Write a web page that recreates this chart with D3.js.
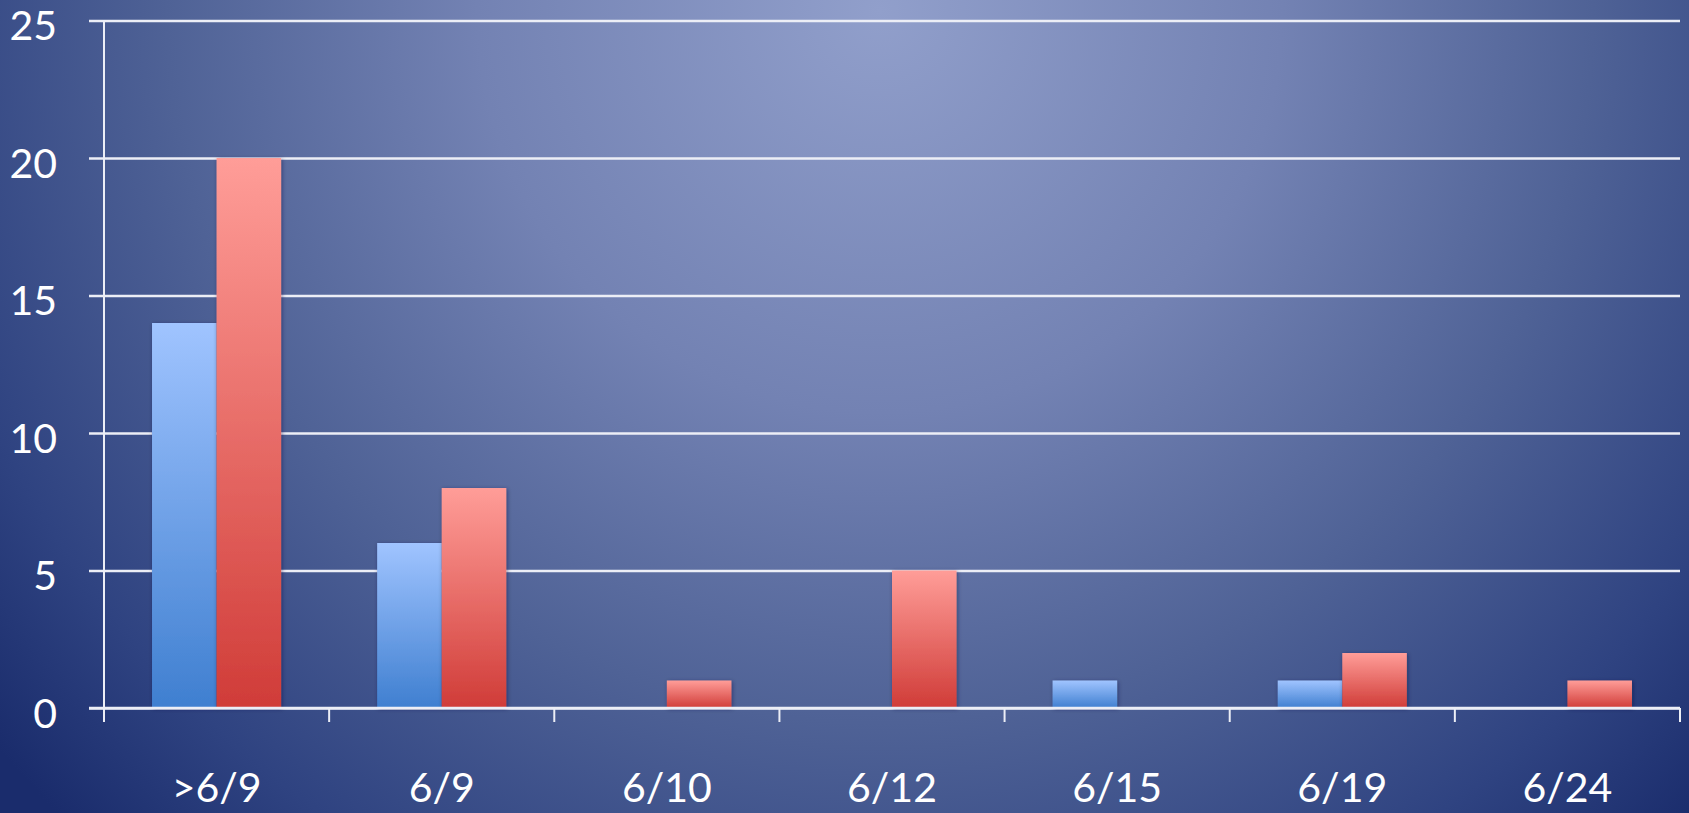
<!DOCTYPE html>
<html>
<head>
<meta charset="utf-8">
<script src="https://cdn.jsdelivr.net/npm/d3@7"></script>
<style>
  html, body { margin: 0; padding: 0; overflow: hidden; background: #2a3c78; }
  svg { display: block; }
  text { font-family: Lato, "Open Sans", sans-serif; fill: #ffffff; }
</style>
</head>
<body>
<script>
// Counts per date, two series
const categories = [">6/9", "6/9", "6/10", "6/12", "6/15", "6/19", "6/24"];
const blueValues = [14, 6, 0, 0, 1, 1, 0];
const redValues  = [20, 8, 1, 5, 0, 2, 1];
const yTicks = [0, 5, 10, 15, 20, 25];

const W = 1689, H = 813;
const plotLeft = 104, plotRight = 1680, plotTop = 20.5, plotBottom = 708;
const fontSize = 41;
const lineColor = "#eceef6", lineWidth = 2.5;

const svg = d3.select("body").append("svg").attr("width", W).attr("height", H);
const defs = svg.append("defs");

// backdrop: bright glow near top-centre fading to deep navy at the corners
const bg = defs.append("radialGradient").attr("id", "bg")
  .attr("gradientUnits", "userSpaceOnUse")
  .attr("cx", 880).attr("cy", 10).attr("r", 1150);
bg.append("stop").attr("offset", "0%").attr("stop-color", "#919fcb");
bg.append("stop").attr("offset", "35%").attr("stop-color", "#7382b3");
bg.append("stop").attr("offset", "62%").attr("stop-color", "#4f6296");
bg.append("stop").attr("offset", "85%").attr("stop-color", "#2f4381");
bg.append("stop").attr("offset", "100%").attr("stop-color", "#1a2c6c");
svg.append("rect").attr("width", W).attr("height", H).attr("fill", "url(#bg)");

const gBlue = defs.append("linearGradient").attr("id", "gBlue").attr("x1", 0).attr("y1", 0).attr("x2", 0).attr("y2", 1);
gBlue.append("stop").attr("offset", "0%").attr("stop-color", "#a0c4ff");
gBlue.append("stop").attr("offset", "100%").attr("stop-color", "#3f7fd0");
const gRed = defs.append("linearGradient").attr("id", "gRed").attr("x1", 0).attr("y1", 0).attr("x2", 0).attr("y2", 1);
gRed.append("stop").attr("offset", "0%").attr("stop-color", "#ff9d98");
gRed.append("stop").attr("offset", "100%").attr("stop-color", "#d03c38");

const shadow = defs.append("filter").attr("id", "shadow").attr("x", "-20%").attr("y", "-20%").attr("width", "140%").attr("height", "140%");
shadow.append("feDropShadow").attr("dx", 1).attr("dy", 1).attr("stdDeviation", 2)
  .attr("flood-color", "#101c40").attr("flood-opacity", 0.45);

const x = d3.scaleBand().domain(categories).range([plotLeft, plotRight]).paddingInner(0).paddingOuter(0);
const y = d3.scaleLinear().domain([0, 25]).range([plotBottom, plotTop]);
// each bar takes ~29% of a date's band; the pair sits centred in it
const sub = d3.scaleBand().domain(["blue", "red"]).range([0, x.bandwidth()]).paddingInner(0).paddingOuter(0.744);

// gridlines + left ticks
const yAxis = d3.axisLeft(y).tickValues(yTicks).tickSize(-(plotRight - plotLeft)).tickPadding(0).tickFormat("");
const gy = svg.append("g").attr("transform", `translate(${plotLeft},0)`).call(yAxis);
gy.select(".domain").remove();
gy.selectAll(".tick line").attr("stroke", lineColor).attr("stroke-width", lineWidth).attr("x1", -15);

// y tick labels
svg.append("g").selectAll("text").data(yTicks).join("text")
  .attr("x", 57).attr("y", d => y(d) + 19.5)
  .attr("text-anchor", "end")
  .attr("font-size", fontSize).text(d => d);

// bars
const groups = svg.append("g").selectAll("g").data(categories).join("g")
  .attr("transform", d => `translate(${x(d)},0)`);
groups.append("rect").datum((d, i) => blueValues[i]).filter(v => v > 0)
  .attr("x", sub("blue")).attr("width", sub.bandwidth())
  .attr("y", v => y(v)).attr("height", v => y(0) - y(v))
  .attr("fill", "url(#gBlue)").attr("filter", "url(#shadow)");
groups.append("rect").datum((d, i) => redValues[i]).filter(v => v > 0)
  .attr("x", sub("red")).attr("width", sub.bandwidth())
  .attr("y", v => y(v)).attr("height", v => y(0) - y(v))
  .attr("fill", "url(#gRed)").attr("filter", "url(#shadow)");

// y axis line
svg.append("line").attr("x1", plotLeft).attr("x2", plotLeft).attr("y1", plotTop).attr("y2", plotBottom + 14)
  .attr("stroke", lineColor).attr("stroke-width", 2);

// x axis baseline and band-edge ticks
svg.append("line").attr("x1", plotLeft - 15).attr("x2", plotRight).attr("y1", plotBottom).attr("y2", plotBottom)
  .attr("stroke", lineColor).attr("stroke-width", lineWidth);
const edges = categories.map(c => x(c)).concat([plotRight]);
svg.append("g").selectAll("line").data(edges).join("line")
  .attr("x1", d => d).attr("x2", d => d).attr("y1", plotBottom).attr("y2", plotBottom + 14)
  .attr("stroke", lineColor).attr("stroke-width", 2);

// category labels
svg.append("g").selectAll("text").data(categories).join("text")
  .attr("x", d => x(d) + x.bandwidth() / 2).attr("y", 802)
  .attr("text-anchor", "middle")
  .attr("font-size", fontSize).text(d => d);
</script>
</body>
</html>
